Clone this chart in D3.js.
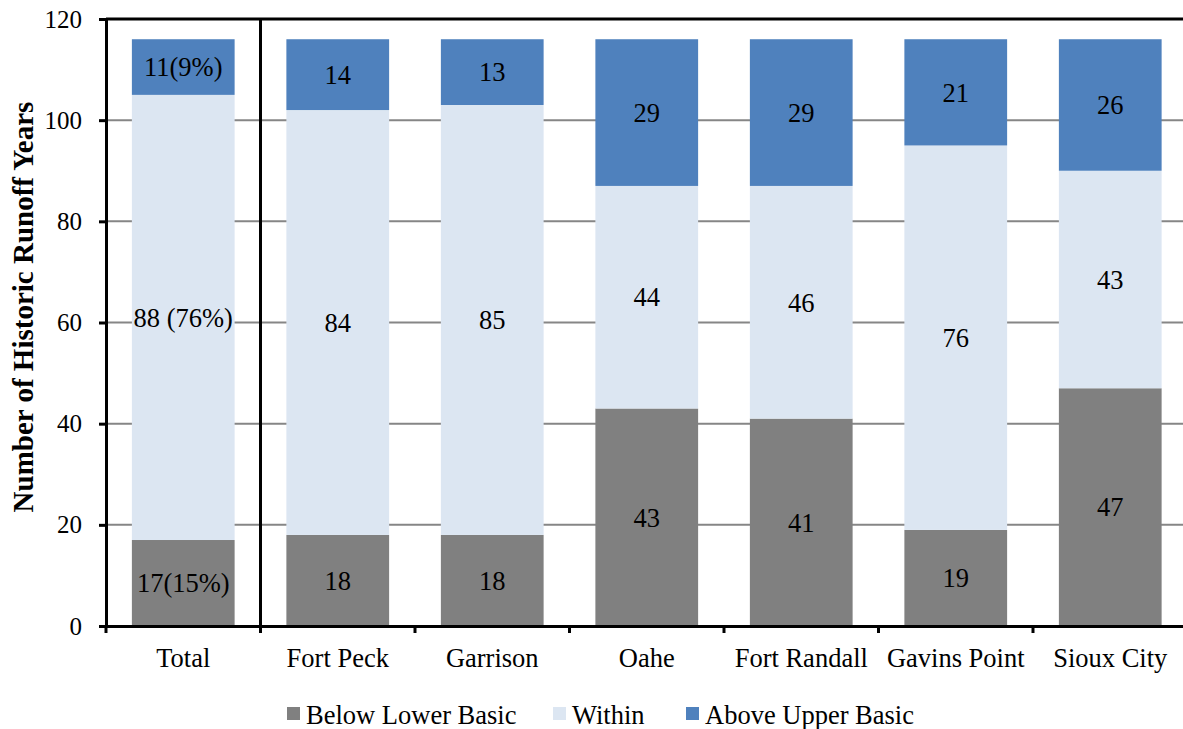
<!DOCTYPE html>
<html>
<head>
<meta charset="utf-8">
<script src="https://cdn.jsdelivr.net/npm/d3@7"></script>
<style>
  html, body { margin: 0; padding: 0; background: #fff; }
  svg { display: block; }
  text { font-family: "Liberation Serif", "Times New Roman", serif; fill: #000; }
</style>
</head>
<body>
<svg id="chart" width="1183" height="729"></svg>
<script>
// Historic runoff years by location, split by basic-level band
const categories = ["Total", "Fort Peck", "Garrison", "Oahe", "Fort Randall", "Gavins Point", "Sioux City"];
const below = [17, 18, 18, 43, 41, 19, 47];
const within = [88, 84, 85, 44, 46, 76, 43];
const above = [11, 14, 13, 29, 29, 21, 26];
const seriesNames = ["Below Lower Basic", "Within", "Above Upper Basic"];
const seriesColors = ["#808080", "#DCE6F2", "#4F81BD"];
const yTicks = [0, 20, 40, 60, 80, 100, 120];
// The Total column carries shares alongside its counts
const totalLabels = ["17(15%)", "88 (76%)", "11(9%)"];

const svg = d3.select("#chart");
const plotLeft = 106, plotRight = 1187.5, plotTop = 19, plotBottom = 626;

const x = d3.scaleBand().domain(categories).range([plotLeft, plotRight]).paddingInner(0.335).paddingOuter(0.1675);
const step = x.step();
const y = d3.scaleLinear().domain([0, 120]).range([plotBottom, plotTop]);

// Gridlines
svg.append("g").selectAll("line")
  .data(yTicks.filter(t => t > 0 && t < 120))
  .join("line")
  .attr("x1", plotLeft).attr("x2", plotRight)
  .attr("y1", d => y(d)).attr("y2", d => y(d))
  .attr("stroke", "#868686").attr("stroke-width", 2);

// Stacked bars
const table = categories.map((c, i) => ({ cat: c, below: below[i], within: within[i], above: above[i] }));
const keys = ["below", "within", "above"];
const stack = d3.stack().keys(keys)(table);

const layers = svg.append("g").selectAll("g")
  .data(stack)
  .join("g")
  .attr("fill", (d, i) => seriesColors[i]);

layers.selectAll("rect")
  .data(d => d)
  .join("rect")
  .attr("x", d => x(d.data.cat))
  .attr("width", x.bandwidth())
  .attr("y", d => y(d[1]))
  .attr("height", d => y(d[0]) - y(d[1]));

// Segment value labels
const labels = svg.append("g");
stack.forEach((layer, si) => {
  layer.forEach((d, ci) => {
    const val = d[1] - d[0];
    const txt = ci === 0 ? totalLabels[si] : String(val);
    labels.append("text")
      .attr("x", x(d.data.cat) + x.bandwidth() / 2)
      .attr("y", y((d[0] + d[1]) / 2))
      .attr("dy", "0.35em")
      .attr("text-anchor", "middle")
      .attr("font-size", 26.5)
      .text(txt);
  });
});

// Frame: top border, Total divider
svg.append("line").attr("x1", plotLeft).attr("x2", plotRight).attr("y1", plotTop).attr("y2", plotTop)
  .attr("stroke", "#000").attr("stroke-width", 3);
svg.append("line").attr("x1", plotLeft + step).attr("x2", plotLeft + step).attr("y1", plotTop).attr("y2", plotBottom)
  .attr("stroke", "#000").attr("stroke-width", 3);

// Y axis
const yAxis = svg.append("g")
  .attr("transform", `translate(${plotLeft},0)`)
  .call(d3.axisLeft(y).tickValues(yTicks).tickSize(7).tickSizeOuter(0).tickPadding(17));
yAxis.select(".domain").attr("stroke", "#000").attr("stroke-width", 3);
yAxis.selectAll(".tick line").attr("stroke", "#000").attr("stroke-width", 3);
yAxis.selectAll(".tick text").attr("font-size", 25).attr("fill", "#000");

// X axis: ticks sit on category boundaries
const xAxis = svg.append("g")
  .attr("transform", `translate(0,${plotBottom})`)
  .call(d3.axisBottom(x).tickSize(0).tickSizeOuter(0).tickPadding(22));
xAxis.select(".domain").attr("stroke", "#000").attr("stroke-width", 3);
xAxis.selectAll(".tick text").attr("font-size", 26.5).attr("fill", "#000");
xAxis.append("g").selectAll("line")
  .data(d3.range(categories.length + 1))
  .join("line")
  .attr("x1", i => plotLeft + i * step).attr("x2", i => plotLeft + i * step)
  .attr("y1", 0).attr("y2", 7)
  .attr("stroke", "#000").attr("stroke-width", 3);

// Y axis title
svg.append("text")
  .attr("transform", `translate(33,307) rotate(-90)`)
  .attr("text-anchor", "middle")
  .attr("font-size", 29)
  .attr("font-weight", "bold")
  .text("Number of Historic Runoff Years");

// Legend
const legendX = [287, 553, 686];
const legend = svg.append("g").selectAll("g")
  .data(seriesNames)
  .join("g")
  .attr("transform", (d, i) => `translate(${legendX[i]},715)`);
legend.append("rect")
  .attr("x", 0).attr("y", -8).attr("width", 13).attr("height", 13)
  .attr("fill", (d, i) => seriesColors[i]);
legend.append("text")
  .attr("x", 19).attr("dy", "0.35em")
  .attr("font-size", 26.5)
  .text(d => d);
</script>
</body>
</html>
